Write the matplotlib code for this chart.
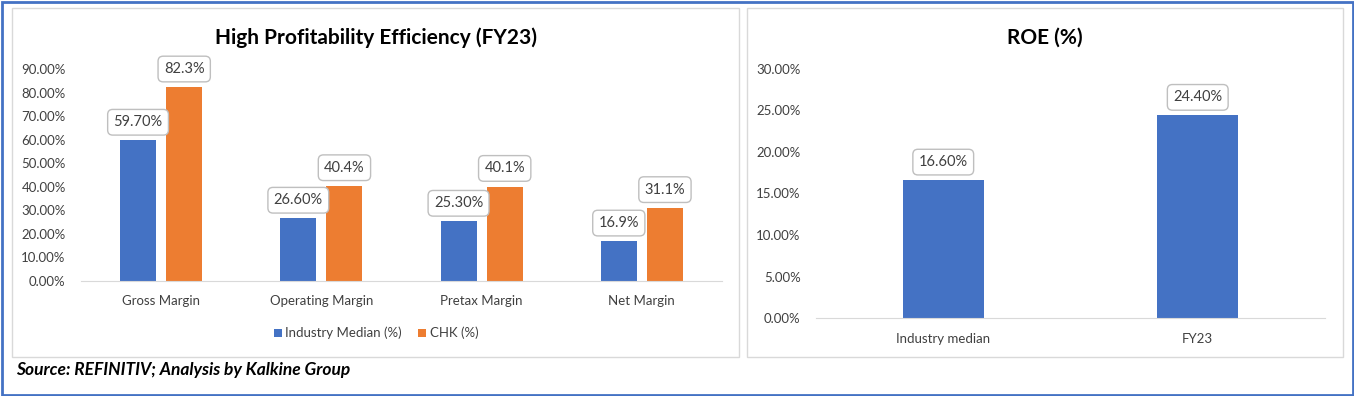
import numpy as np
import matplotlib.pyplot as plt
from matplotlib.patches import Rectangle
from matplotlib.ticker import PercentFormatter

plt.rcParams['font.family'] = ['Lato', 'DejaVu Sans']

# 左图数据
categories = ['Gross Margin', 'Operating Margin', 'Pretax Margin', 'Net Margin']
industry = [59.7, 26.6, 25.3, 16.9]
chk = [82.3, 40.4, 40.1, 31.1]
industry_lbl = ['59.70%', '26.60%', '25.30%', '16.9%']
chk_lbl = ['82.3%', '40.4%', '40.1%', '31.1%']

# 右图数据
roe_cats = ['Industry median', 'FY23']
roe_vals = [16.6, 24.4]
roe_lbl = ['16.60%', '24.40%']

blue = '#4472C4'
orange = '#ED7D31'
W, H = 1354, 396

fig = plt.figure(figsize=(W / 100, H / 100), dpi=100)

def box(x0, y0, x1, y1, ec, lw):
    # 像素坐标 -> figure 坐标
    fig.add_artist(Rectangle((x0 / W, 1 - y1 / H), (x1 - x0) / W, (y1 - y0) / H,
                             transform=fig.transFigure, fill=False, ec=ec, lw=lw))

box(1.5, 1.5, 1352.5, 394.5, blue, 2)
box(12, 8, 739, 357, '#D9D9D9', 1)
box(747, 8, 1343, 357, '#D9D9D9', 1)

lbl_box = dict(boxstyle='round,pad=0.4,rounding_size=0.35', fc='white', ec='#BFBFBF', lw=1)

def style(ax):
    for s in ['top', 'right', 'left']:
        ax.spines[s].set_visible(False)
    ax.spines['bottom'].set_color('#D9D9D9')
    ax.tick_params(axis='both', length=0, labelsize=9.5, colors='#404040')
    ax.tick_params(axis='y', pad=11)
    ax.tick_params(axis='x', pad=10)

# 左图
ax1 = fig.add_axes([81 / W, 1 - 281 / H, 641 / W, 212 / H])
x = np.arange(len(categories))
w = 0.225
b1 = ax1.bar(x - 0.144, industry, w, color=blue, label='Industry Median (%)')
b2 = ax1.bar(x + 0.144, chk, w, color=orange, label='CHK (%)')
for bars, labs in [(b1, industry_lbl), (b2, chk_lbl)]:
    for r, t in zip(bars, labs):
        ax1.annotate(t, (r.get_x() + r.get_width() / 2, r.get_height()),
                     xytext=(0, 8), textcoords='offset points', ha='center', va='bottom',
                     fontsize=10.5, color='#404040', bbox=lbl_box)
ax1.set_xlim(-0.5, 3.5)
ax1.set_ylim(0, 90)
ax1.set_yticks(np.arange(0, 91, 10))
ax1.yaxis.set_major_formatter(PercentFormatter(decimals=2))
ax1.set_xticks(x, categories)
style(ax1)
ax1.set_title('High Profitability Efficiency (FY23)', fontsize=15, fontweight='bold',
              color='black', pad=18, x=(376 - 81) / 641)
ax1.legend(loc='upper center', bbox_to_anchor=((376 - 81) / 641, -0.16), ncol=2, frameon=False,
           fontsize=9.5, handlelength=0.6, handleheight=0.6, handletextpad=0.3,
           columnspacing=1.2, labelcolor='#404040')

# 右图
ax2 = fig.add_axes([816 / W, 1 - 318 / H, 509 / W, 249 / H])
x2 = np.arange(len(roe_cats))
b3 = ax2.bar(x2, roe_vals, 0.32, color=blue)
for r, t in zip(b3, roe_lbl):
    ax2.annotate(t, (r.get_x() + r.get_width() / 2, r.get_height()),
                 xytext=(0, 8), textcoords='offset points', ha='center', va='bottom',
                 fontsize=10.5, color='#404040', bbox=lbl_box)
ax2.set_xlim(-0.5, 1.5)
ax2.set_ylim(0, 30)
ax2.set_yticks(np.arange(0, 31, 5))
ax2.yaxis.set_major_formatter(PercentFormatter(decimals=2))
ax2.set_xticks(x2, roe_cats)
style(ax2)
ax2.tick_params(axis='x', pad=11)
ax2.set_title('ROE (%)', fontsize=15, fontweight='bold', color='black', pad=18,
              x=(1045 - 816) / 509)

fig.text(16 / W, 1 - 370 / H, 'Source: REFINITIV; Analysis by Kalkine Group', fontsize=12.5,
         fontweight='bold', fontstyle='italic', va='center', ha='left')

fig.savefig('out.png', dpi=100)
